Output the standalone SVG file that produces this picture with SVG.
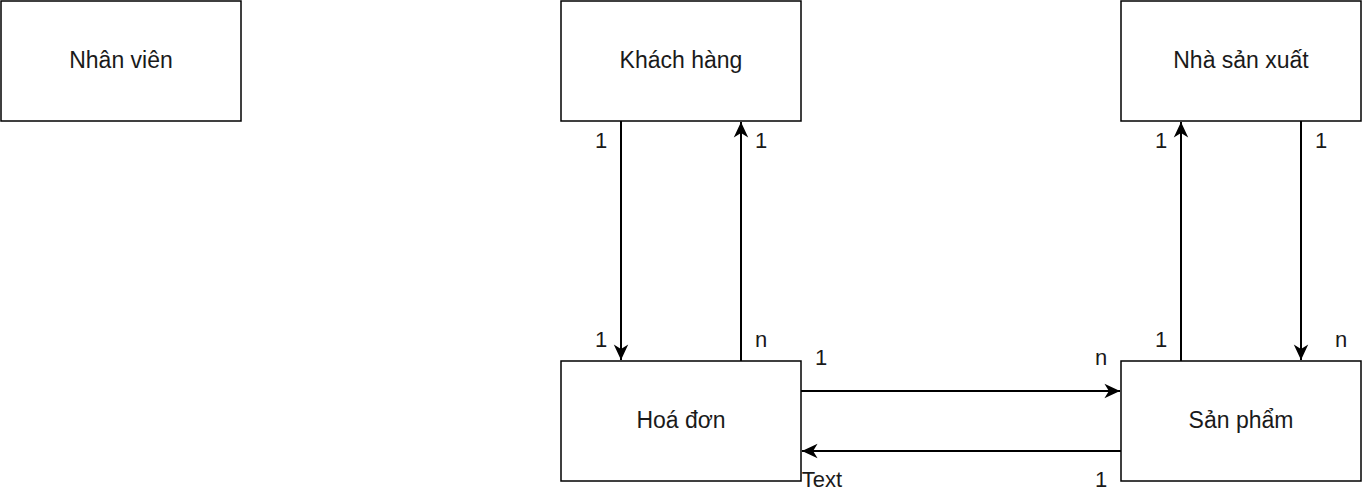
<svg xmlns="http://www.w3.org/2000/svg" width="1362" height="502" viewBox="0 0 1362 502">
<style>
.box{fill:#fff;stroke:#000;stroke-width:1.5}
.lbl{font-family:"Liberation Sans",Arial,sans-serif;font-size:23px;fill:#1a1a1a;text-anchor:middle}
.edge{fill:none;stroke:#000;stroke-width:2;marker-end:url(#arr)}
.el{font-family:"Liberation Sans",Arial,sans-serif;font-size:22px;fill:#1a1a1a;text-anchor:middle}
</style>
<defs>
<marker id="arr" markerUnits="userSpaceOnUse" markerWidth="20" markerHeight="20" viewBox="-16 -8 18 16" refX="0" refY="0" orient="auto">
<path d="M0,0 L-14,-6.5 L-10,0 L-14,6.5 Z" fill="#000"/>
</marker>
</defs>
<rect width="1362" height="502" fill="#fff"/>
<g id="nhanvien"><rect class="box" x="1" y="1" width="240" height="120"/><text class="lbl" x="121" y="68">Nhân viên</text></g>
<g id="khachhang"><rect class="box" x="561" y="1" width="240" height="120"/><text class="lbl" x="681" y="68">Khách hàng</text></g>
<g id="nhasanxuat"><rect class="box" x="1121" y="1" width="240" height="120"/><text class="lbl" x="1241" y="68">Nhà sản xuất</text></g>
<g id="hoadon"><rect class="box" x="561" y="361" width="240" height="120"/><text class="lbl" x="681" y="428">Hoá đơn</text></g>
<g id="sanpham"><rect class="box" x="1121" y="361" width="240" height="120"/><text class="lbl" x="1241" y="428">Sản phẩm</text></g>
<g id="connectors">
<path class="edge" d="M621,121 L621,360"/>
<path class="edge" d="M741,361 L741,122"/>
<path class="edge" d="M801,391 L1120,391"/>
<path class="edge" d="M1121,451 L802,451"/>
<path class="edge" d="M1181,361 L1181,122"/>
<path class="edge" d="M1301,121 L1301,360"/>
<text class="el" x="601" y="148">1</text>
<text class="el" x="761" y="148">1</text>
<text class="el" x="601" y="347">1</text>
<text class="el" x="761" y="347">n</text>
<text class="el" x="821" y="365">1</text>
<text class="el" x="1101" y="365">n</text>
<text class="el" x="822" y="487">Text</text>
<text class="el" x="1101" y="487">1</text>
<text class="el" x="1161" y="148">1</text>
<text class="el" x="1321" y="148">1</text>
<text class="el" x="1161" y="347">1</text>
<text class="el" x="1341" y="347">n</text>
</g>
</svg>
